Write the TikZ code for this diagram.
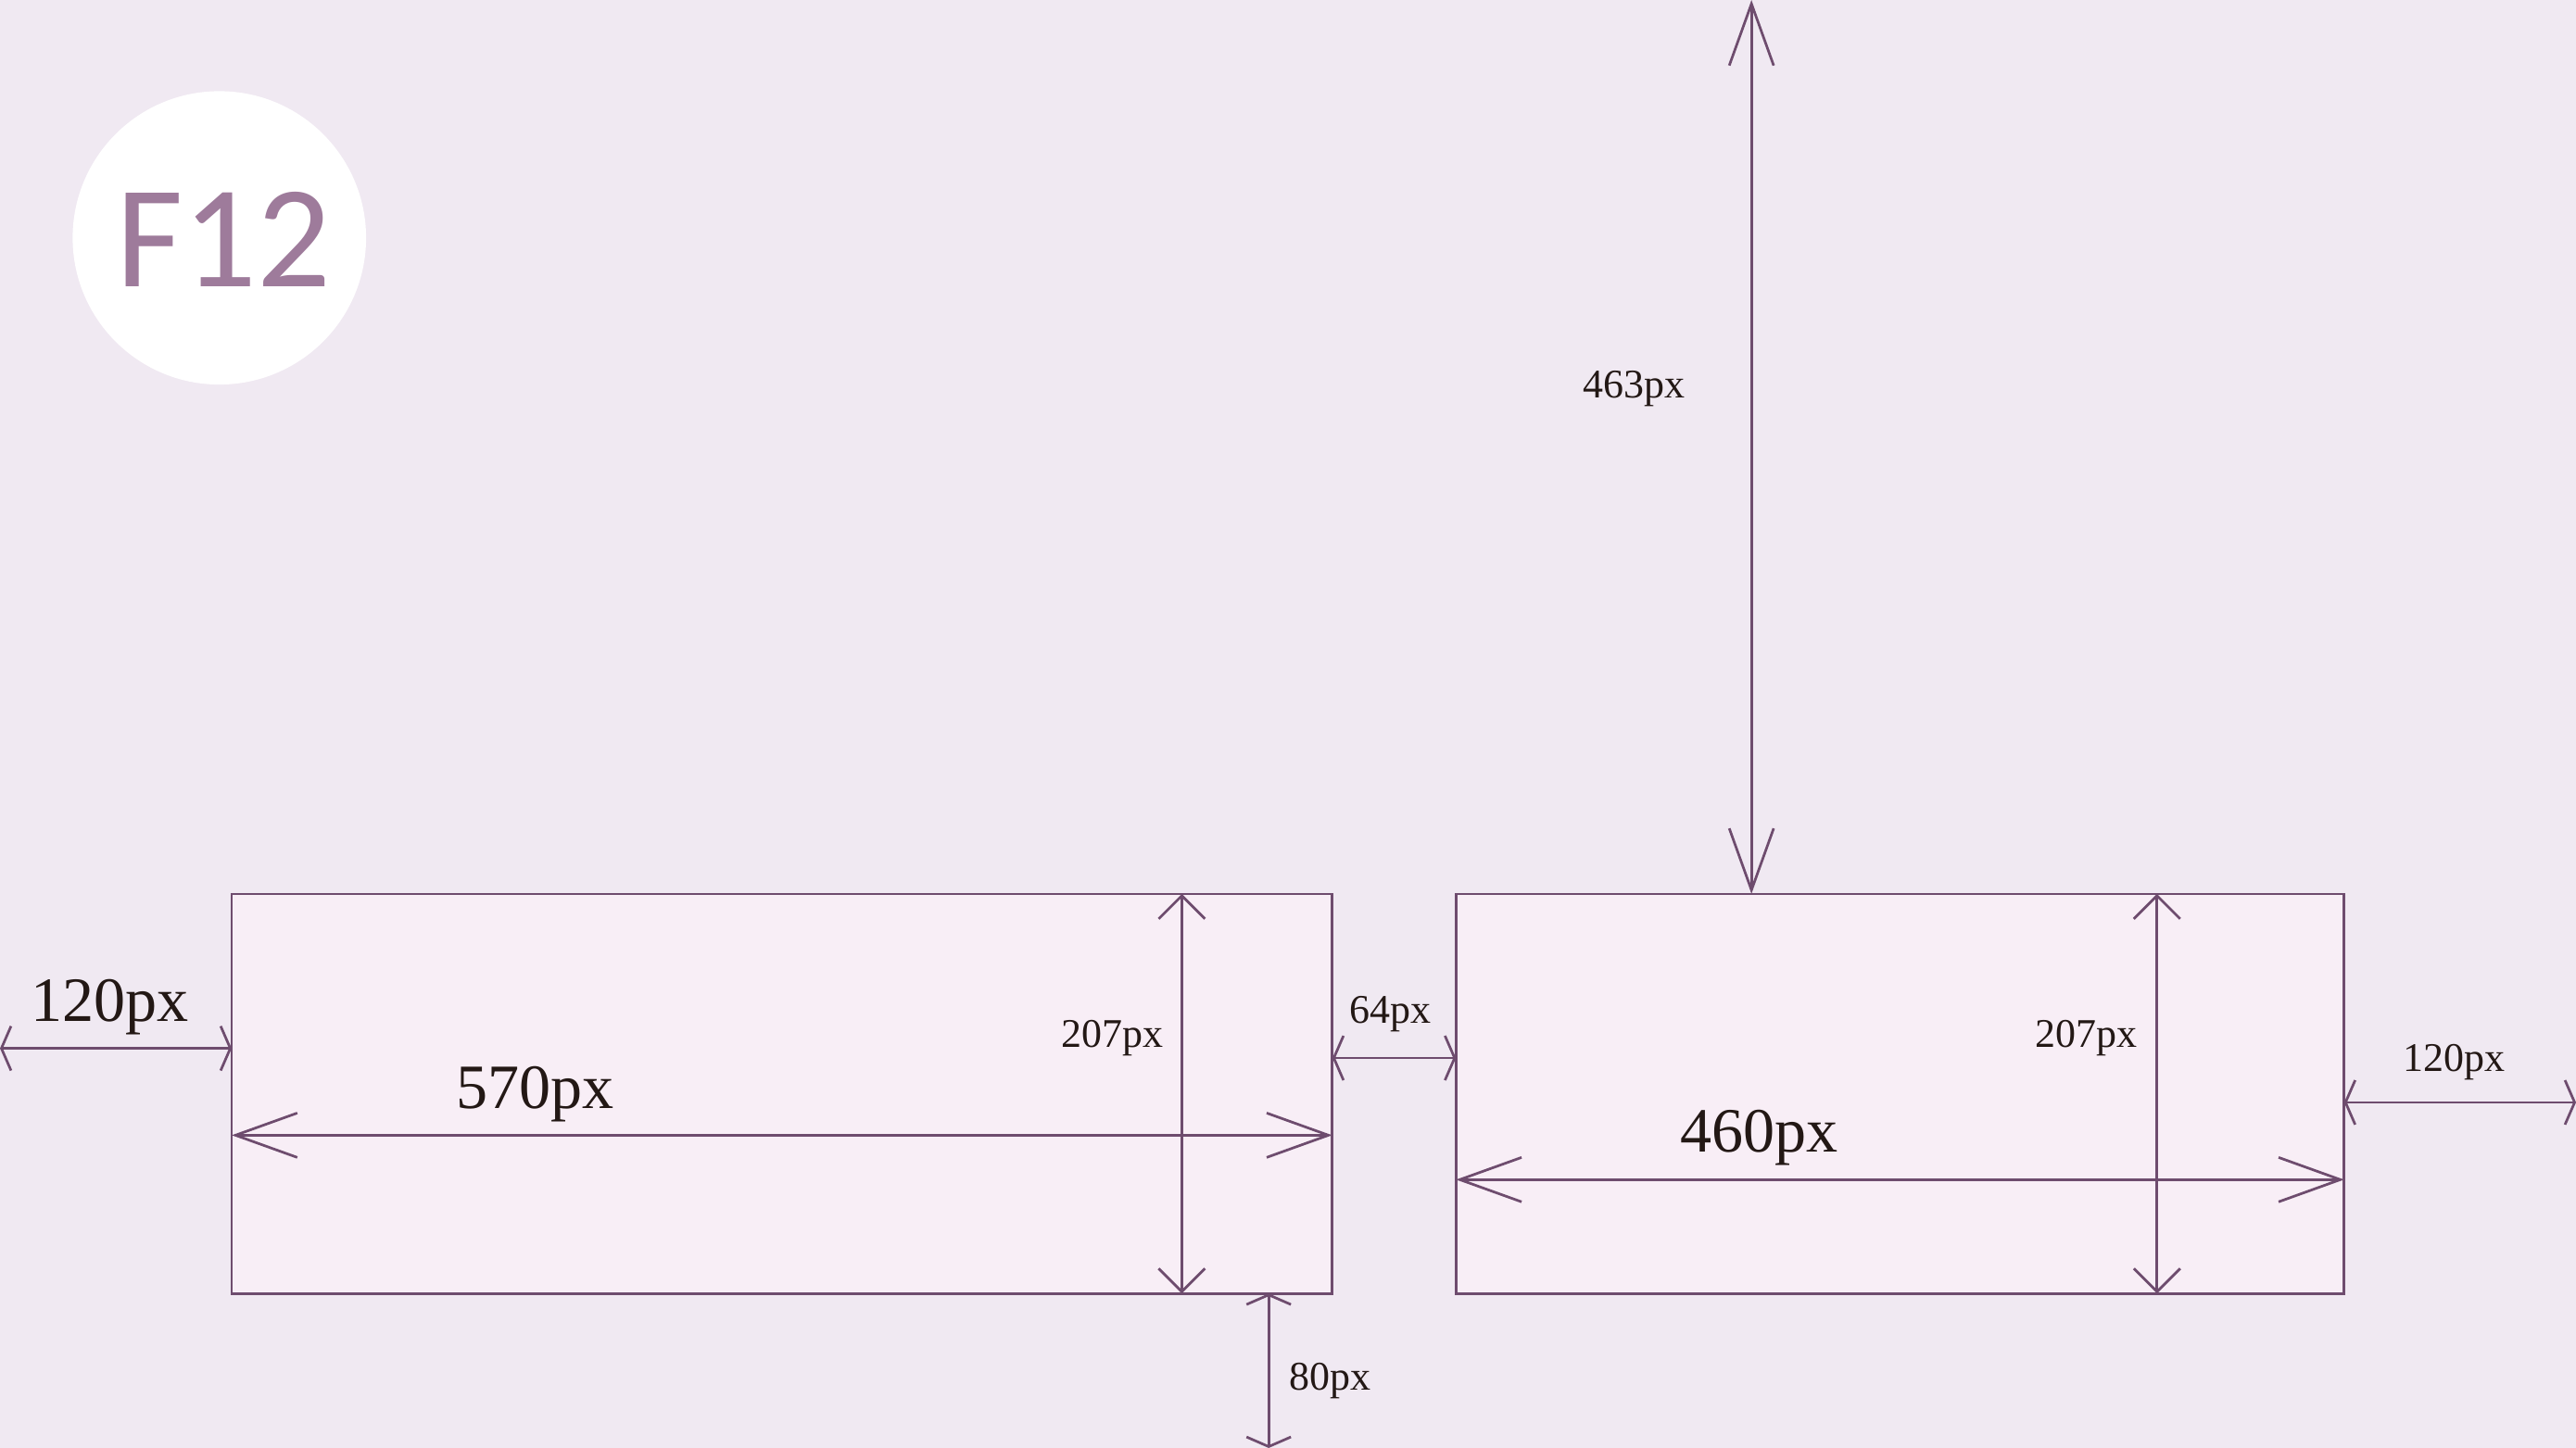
\documentclass[tikz,border=0pt]{standalone}
\usepackage{fontspec}
\setmainfont{Liberation Serif}
\newfontfamily\badgefont{Carlito}
\usetikzlibrary{arrows.meta,positioning}

\definecolor{paperbg}{HTML}{F0E9F2}
\definecolor{panelfill}{HTML}{F8EEF6}
\definecolor{plumline}{HTML}{6E4C6E}
\definecolor{badgetext}{HTML}{9E7B9B}
\definecolor{labelink}{HTML}{231815}

\tikzset{
  panel/.style={draw=plumline, fill=panelfill, line width=0.75pt, inner sep=0, outer sep=0, anchor=north west},
  dimline/.style={draw=plumline, line width=0.75pt},
  longdim/.style={dimline, {Straight Barb[length=0.64cm,width=0.46cm]}-{Straight Barb[length=0.64cm,width=0.46cm]}},
  sqdim/.style={dimline, {Straight Barb[length=0.24cm,width=0.48cm]}-{Straight Barb[length=0.24cm,width=0.48cm]}},
  flatdim/.style={dimline, {Straight Barb[length=0.1cm,width=0.46cm]}-{Straight Barb[length=0.1cm,width=0.46cm]}},
  biglabel/.style={text=labelink, font=\fontsize{18.6}{20}\selectfont, inner sep=0, anchor=base},
  smalllabel/.style={text=labelink, font=\fontsize{12}{14}\selectfont, inner sep=0, anchor=base},
}

\begin{document}
\begin{tikzpicture}[x=0.02cm, y=-0.02cm]
    % page
    \fill[paperbg] (0,0) rectangle (1334,750);
    \useasboundingbox (0,0) rectangle (1334,750);

    % badge
    \node[circle, fill=white, minimum size=3.04cm, inner sep=0] (badge) at (113.6,123.2) {};
    \node[text=badgetext, font=\badgefont\fontsize{43}{43}\selectfont, inner sep=0] (badgetxt) at (115.8,124) {F12};

    % panels
    \node[panel, minimum width=11.4cm, minimum height=4.14cm] (leftpanel) at (120,463) {};
    \node[panel, minimum width=9.2cm, minimum height=4.14cm] (rightpanel) at (754,463) {};

    % space above right panel
    \coordinate (sky) at (907,0);
    \draw[longdim] (sky) -- (sky |- rightpanel.north);
    \node[smalllabel] (lbl463) at (846,206) {463px};

    % left margin
    \coordinate (leftedge) at (0,543);
    \draw[flatdim] (leftedge) -- (leftedge -| leftpanel.west);
    \node[biglabel] (lbl120a) at (57,529) {120px};

    % left panel width
    \coordinate (w570) at (120,588);
    \draw[longdim] (w570) -- (w570 -| leftpanel.east);
    \node[biglabel] (lbl570) at (277,574) {570px};

    % left panel height
    \coordinate (h207a) at (612,463);
    \draw[sqdim] (h207a) -- (h207a |- leftpanel.south);
    \node[smalllabel] (lbl207a) at (576,542.5) {207px};

    % gap between panels
    \coordinate (gap) at (690,548);
    \draw[flatdim] (gap) -- (gap -| rightpanel.west);
    \node[smalllabel] (lbl64) at (720,530) {64px};

    % bottom margin
    \coordinate (floor) at (657,750);
    \draw[flatdim] (floor |- leftpanel.south) -- (floor);
    \node[smalllabel] (lbl80) at (689,720) {80px};

    % right panel width
    \coordinate (w460) at (754,611);
    \draw[longdim] (w460) -- (w460 -| rightpanel.east);
    \node[biglabel] (lbl460) at (911,596.5) {460px};

    % right panel height
    \coordinate (h207b) at (1117,463);
    \draw[sqdim] (h207b) -- (h207b |- rightpanel.south);
    \node[smalllabel] (lbl207b) at (1080.5,542.5) {207px};

    % right margin
    \coordinate (rightedge) at (1334,571);
    \draw[flatdim] (rightedge -| rightpanel.east) -- (rightedge);
    \node[smalllabel] (lbl120b) at (1271,555) {120px};
\end{tikzpicture}
\end{document}
